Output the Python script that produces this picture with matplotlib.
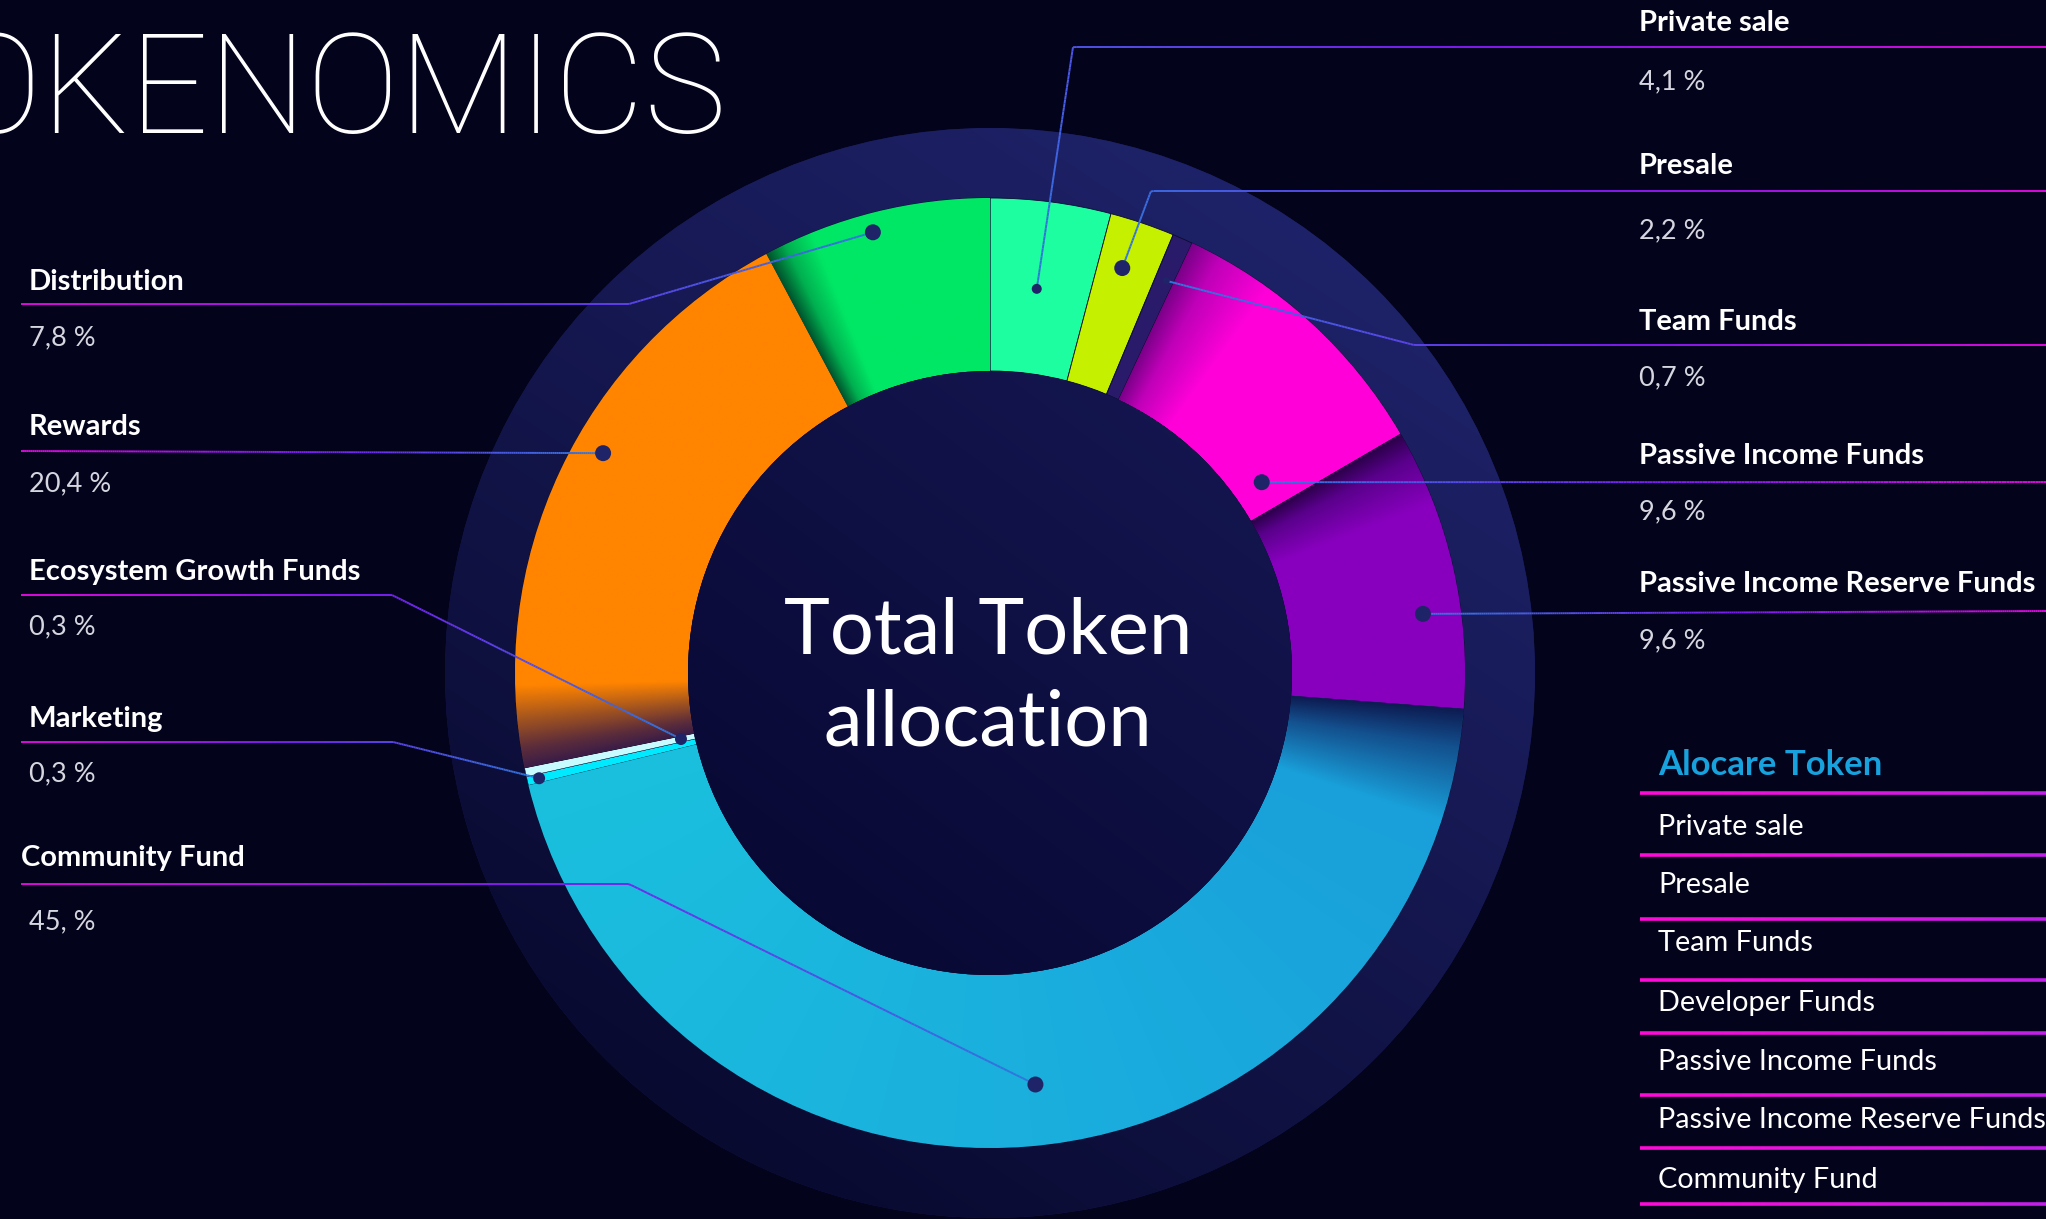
import numpy as np
import matplotlib.pyplot as plt
from matplotlib.patches import Circle
from matplotlib.collections import LineCollection
from matplotlib.colors import to_rgb, LinearSegmentedColormap

W, H = 2046, 1219
plt.rcParams['font.family'] = ['Lato', 'DejaVu Sans']

# token allocation, clockwise from 12 o'clock
names = ["Private sale", "Presale", "Team Funds", "Passive Income Funds",
         "Passive Income Reserve Funds", "Community Fund", "Marketing",
         "Ecosystem Growth Funds", "Rewards", "Distribution"]
shares = [4.1, 2.2, 0.7, 9.6, 9.6, 45.0, 0.3, 0.3, 20.4, 7.8]
pct_text = ["4,1 %", "2,2 %", "0,7 %", "9,6 %", "9,6 %", "45, %",
            "0,3 %", "0,3 %", "20,4 %", "7,8 %"]
slice_colors = ["#1dfea0", "#c5f000", "#2a1a6a", "#ff00d9", "#8800be",
                "#1ab4de", "#00eaff", "#c8fbff", "#ff8400", "#00e765"]

legend_title = "Alocare Token"
legend_items = ["Private sale", "Presale", "Team Funds", "Developer Funds",
                "Passive Income Funds", "Passive Income Reserve Funds",
                "Community Fund"]

# geometry (pixels, picture y runs downwards)
CX, CY = 990, H - 673
R_OUT, R_IN, R_DISK = 475, 302, 545

# label placement: side, name baseline, line y, value baseline, elbow x,
# position of the dot inside the slice (fraction, radius), dot size
layout = {
    "Private sale": ("R", 31, 47, 89, 1073, 0.47, 387, 5),
    "Presale": ("R", 174, 191, 238, 1151, 0.42, 426, 8),
    "Team Funds": ("R", 330, 345, 385, 1414, 0.6, 430, 3.5),
    "Passive Income Funds": ("R", 464, 482, 519, None, 0.86, 332, 8),
    "Passive Income Reserve Funds": ("R", 592, 611, 648, None, 0.65, 437, 8),
    "Community Fund": ("L", 866, 884, 929, 629, 0.49, 414, 8),
    "Marketing": ("L", 727, 742, 781, 393, 0.5, 463, 6),
    "Ecosystem Growth Funds": ("L", 580, 595, 634, 392, 0.5, 316, 6),
    "Rewards": ("L", 435, 451, 491, None, 0.56, 445, 8),
    "Distribution": ("L", 290, 304, 345, 629, 0.47, 456, 8),
}

# angular shading inside some slices (clockwise degrees from top)
shade_stops = {
    "Passive Income Funds": [(25.2, "#7a0088"), (29, "#c000b8"), (36, "#ff00d9"), (60, "#ff00d9")],
    "Passive Income Reserve Funds": [(59.8, "#2a0048"), (63, "#5a008c"), (69, "#8800be"), (95, "#8800be")],
    "Community Fund": [(94.3, "#0d1a50"), (99, "#13508e"), (108, "#19a0da"), (170, "#1aaede"), (256.3, "#1bc0dd")],
    "Rewards": [(258.5, "#3a1c48"), (261, "#5e2e3a"), (264.5, "#a4551f"), (268.5, "#ff8400"), (332, "#ff8400")],
    "Distribution": [(331.9, "#00502c"), (334.5, "#00b050"), (338, "#00e765"), (360, "#00e765")],
}

fig = plt.figure(figsize=(W / 100, H / 100), dpi=100, facecolor="#03031c")
ax = fig.add_axes([0, 0, 1, 1])
ax.set_facecolor("#03031c")


def grad_image(patch, func, box, z, res=600):
    x0, x1, y0, y1 = box
    X, Y = np.meshgrid(np.linspace(x0, x1, res), np.linspace(y0, y1, res))
    img = func(X, Y)
    im = ax.imshow(img, extent=(x0, x1, y0, y1), origin="lower", zorder=z,
                   interpolation="bilinear")
    im.set_clip_path(patch)


def linear_fill(c0, c1, dx, dy):
    a, b = np.array(to_rgb(c0)), np.array(to_rgb(c1))

    def f(X, Y):
        t = ((X - CX) * dx + (Y - CY) * dy) / R_DISK
        t = np.clip((t + 1) / 2, 0, 1)[..., None]
        return a * (1 - t) + b * t
    return f


# outer dark ring
disk = Circle((CX, CY), R_DISK, facecolor="#15174f", edgecolor="none", zorder=1)
ax.add_patch(disk)
grad_image(disk, linear_fill("#090a30", "#1e2268", 0.55, 0.83),
           (CX - R_DISK, CX + R_DISK, CY - R_DISK, CY + R_DISK), 1.1)

wedges, _ = ax.pie(shares, colors=slice_colors, startangle=90, counterclock=False,
                   radius=R_OUT, center=(CX, CY),
                   wedgeprops=dict(width=R_OUT - R_IN, edgecolor="#0b0b30", linewidth=0.6))
for w in wedges:
    w.set_zorder(2)
for name in ("Marketing", "Ecosystem Growth Funds"):
    wedges[names.index(name)].set_linewidth(0.3)

for name, stops in shade_stops.items():
    w = wedges[names.index(name)]
    pos = [s[0] for s in stops]
    cols = np.array([to_rgb(s[1]) for s in stops])

    def f(X, Y, pos=pos, cols=cols):
        ang = (90 - np.degrees(np.arctan2(Y - CY, X - CX))) % 360
        if pos[-1] >= 360:
            ang = np.where(ang < 1, ang + 360, ang)
        return np.dstack([np.interp(ang, pos, cols[:, k]) for k in range(3)])
    grad_image(w, f, (CX - R_OUT, CX + R_OUT, CY - R_OUT, CY + R_OUT), 2.1)

# inner disc
inner = Circle((CX, CY), R_IN, facecolor="#0a0b3a", edgecolor="none", zorder=3)
ax.add_patch(inner)
grad_image(inner, linear_fill("#04042a", "#181a58", 0.6, 0.8),
           (CX - R_IN, CX + R_IN, CY - R_IN, CY + R_IN), 3.1)

ax.text(CX - 2, H - 654, "Total Token", color="white", fontsize=56,
        ha="center", va="baseline", zorder=6)
ax.text(CX - 2, H - 746, "allocation", color="white", fontsize=56,
        ha="center", va="baseline", zorder=6)

ax.text(727, H - 133, "TOKENOMICS", color="white", fontsize=100,
        family=["Roboto", "Lato", "DejaVu Sans"], fontweight="light",
        ha="right", va="baseline", zorder=6)


def grad_line(px, py, cols, lw=1.4, z=4):
    x = np.array(px, float)
    y = H - np.array(py, float)
    d = np.r_[0, np.cumsum(np.hypot(np.diff(x), np.diff(y)))]
    t = np.linspace(0, d[-1], 300)
    pts = np.column_stack([np.interp(t, d, x), np.interp(t, d, y)]).reshape(-1, 1, 2)
    segs = np.concatenate([pts[:-1], pts[1:]], axis=1)
    lc = LineCollection(segs, cmap=LinearSegmentedColormap.from_list("g", cols),
                        linewidths=lw, zorder=z)
    lc.set_array(np.linspace(0, 1, len(segs)))
    ax.add_collection(lc)


for name, share, pct, w in zip(names, shares, pct_text, wedges):
    side, ny, ly, vy, ex, frac, rr, ds = layout[name]
    a = np.radians(w.theta2 - frac * (w.theta2 - w.theta1))
    dxp, dyp = CX + rr * np.cos(a), H - (CY + rr * np.sin(a))
    if side == "L":
        tx = 21 if name == "Community Fund" else 29
        xs, ys = [21], [ly]
    else:
        tx = 1639
        xs, ys = [W], [ly]
    if ex is not None:
        xs.append(ex)
        ys.append(ly)
    xs.append(dxp)
    ys.append(dyp)
    grad_line(xs, ys, ["#dc0adc", "#7a1cf0", "#2f78dc"])
    ax.add_patch(Circle((dxp, H - dyp), ds, facecolor="#1f2468", edgecolor="none", zorder=5))
    ax.text(tx, H - ny, name, color="white", fontsize=21, fontweight="bold",
            ha="left", va="baseline", zorder=6)
    ax.text(29 if side == "L" else 1639, H - vy, pct, color="#d6d6e0", fontsize=19.5,
            ha="left", va="baseline", zorder=6)

# legend box on the right
ax.text(1658, H - 775, legend_title, color="#17a2de", fontsize=25, fontweight="bold",
        ha="left", va="baseline", zorder=6)
legend_lines = [793, 855, 919, 980, 1033, 1095, 1148, 1204]
legend_base = [835, 893, 951, 1011, 1070, 1128, 1188]
for yy in legend_lines:
    grad_line([1640, W], [yy, yy], ["#ff0ad6", "#c020e8"], lw=2.6)
for item, yy in zip(legend_items, legend_base):
    ax.text(1658, H - yy, item, color="white", fontsize=20.8, ha="left",
            va="baseline", zorder=6)

ax.set_xlim(0, W)
ax.set_ylim(0, H)
ax.set_aspect("equal")
ax.axis("off")
fig.savefig("out.png", dpi=100, facecolor=fig.get_facecolor())
